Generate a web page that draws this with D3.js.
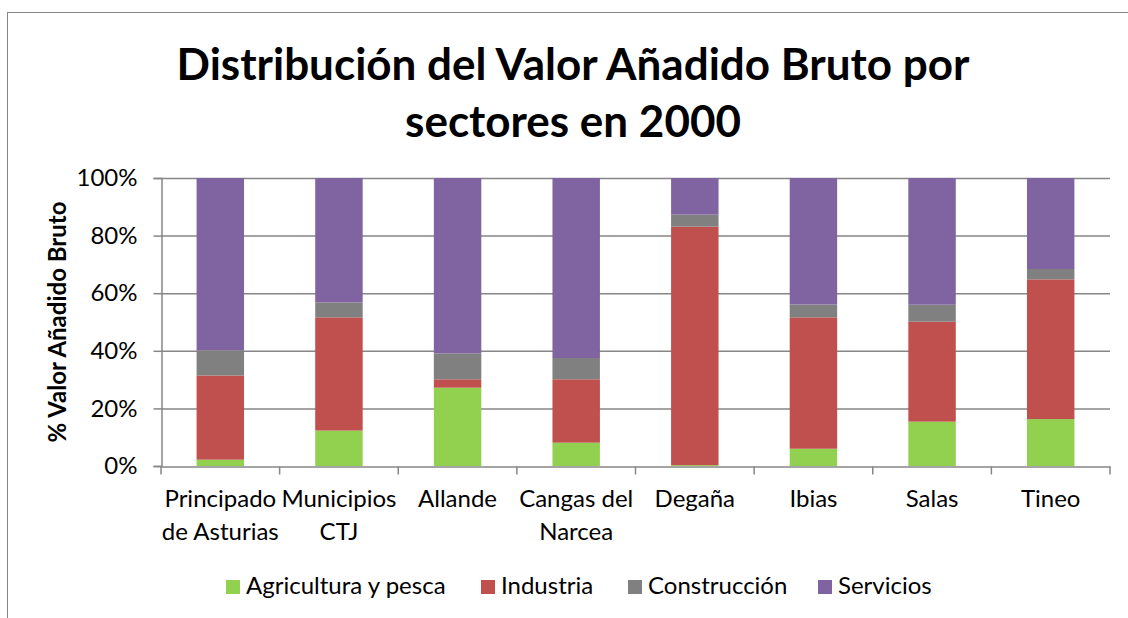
<!DOCTYPE html>
<html><head><meta charset="utf-8">
<script src="https://cdn.jsdelivr.net/npm/d3@7"></script>
<style>body{margin:0;background:#fff}svg{display:block}text{font-family:Lato,"Open Sans",sans-serif;fill:#000}</style>
</head><body><svg id="c" width="1128" height="618"></svg>
<script>
const categories = [["Principado","de Asturias"],["Municipios","CTJ"],["Allande"],["Cangas del","Narcea"],["Degaña"],["Ibias"],["Salas"],["Tineo"]];
const seriesNames = ["Agricultura y pesca","Industria","Construcción","Servicios"];
const agricultura = [2.2,12.3,27.2,8.1,0.3,6.0,15.4,16.3];
const industria   = [29.2,39.3,2.9,22.0,82.8,45.6,34.7,48.5];
const construccion= [8.8,5.2,9.0,7.4,4.2,4.5,5.9,3.6];
const servicios   = [59.8,43.2,60.9,62.5,12.7,43.9,44.0,31.6];
const yTicks = [0,20,40,60,80,100];
const colors = ["#92D050","#C0504D","#808080","#8064A2"];

const svg = d3.select("#c");
// outer frame
svg.append("rect").attr("x",7.5).attr("y",12.5).attr("width",1300).attr("height",800)
  .attr("fill","none").attr("stroke","#868686").attr("stroke-width",1);

const m = {l:161,r:1110,t:178,b:466};
const keys = categories.map((c,i)=>i);
const x = d3.scaleBand().domain(keys).range([m.l,m.r]).paddingInner(0.6).paddingOuter(0.3);
const xb = d3.scaleBand().domain(keys).range([m.l,m.r]);
const y = d3.scaleLinear().domain([0,100]).range([m.b,m.t]);

// title
svg.append("text").attr("x",573).attr("y",80).attr("text-anchor","middle")
  .style("font-size","44px").style("font-weight","bold").text("Distribución del Valor Añadido Bruto por");
svg.append("text").attr("x",573).attr("y",137).attr("text-anchor","middle")
  .style("font-size","44px").style("font-weight","bold").text("sectores en 2000");

// gridlines
svg.append("g").selectAll("line").data(yTicks.filter(d=>d>0)).join("line")
  .attr("x1",m.l).attr("x2",m.r).attr("y1",d=>y(d)+0.5).attr("y2",d=>y(d)+0.5)
  .attr("stroke","#868686").attr("stroke-width",1.5);

// stacked bars
const rows = keys.map(i=>({i, a:agricultura[i], n:industria[i], c:construccion[i], s:servicios[i]}));
const stack = d3.stack().keys(["a","n","c","s"])(rows);
svg.append("g").selectAll("g").data(stack).join("g").attr("fill",(d,k)=>colors[k])
  .selectAll("rect").data(d=>d).join("rect")
  .attr("x",d=>x(d.data.i)).attr("width",x.bandwidth())
  .attr("y",d=>y(d[1])).attr("height",d=>y(d[0])-y(d[1]));

// y axis
const ya = svg.append("g").attr("transform",`translate(${m.l+0.5},0)`)
  .call(d3.axisLeft(y).tickValues(yTicks).tickFormat(d=>d+"%").tickSize(8).tickPadding(16));
ya.select(".domain").attr("stroke","#868686").attr("stroke-width",1.5);
ya.selectAll(".tick line").attr("stroke","#868686").attr("stroke-width",1.5);
ya.selectAll(".tick text").style("font-size","24px").style("font-family","Lato,sans-serif").attr("fill","#000");

// x axis
const xa = svg.append("g").attr("transform",`translate(0,${m.b+0.5})`)
  .call(d3.axisBottom(xb).tickSize(0).tickFormat(""));
xa.select(".domain").attr("stroke","#868686").attr("stroke-width",1.5);
xa.selectAll(".tick").remove();
const bounds = keys.map(i=>xb(i)).concat([m.r]);
xa.selectAll("line.tk").data(bounds).join("line").attr("class","tk")
  .attr("x1",d=>d).attr("x2",d=>d).attr("y1",0).attr("y2",8)
  .attr("stroke","#868686").attr("stroke-width",1.5);
const lab = svg.append("g").selectAll("text").data(keys).join("text")
  .attr("text-anchor","middle").style("font-size","24px")
  .attr("transform",i=>`translate(${xb(i)+xb.bandwidth()/2},507)`);
lab.selectAll("tspan").data(i=>categories[i]).join("tspan")
  .attr("x",0).attr("dy",(d,j)=>j===0?0:33).text(d=>d);

// y axis title
svg.append("text").attr("transform","translate(66,322) rotate(-90)").attr("text-anchor","middle")
  .style("font-size","24px").style("font-weight","bold").text("% Valor Añadido Bruto");

// legend
const legX = [226,481,628,818];
const lg = svg.append("g").selectAll("g").data(seriesNames).join("g")
  .attr("transform",(d,k)=>`translate(${legX[k]},580)`);
lg.append("rect").attr("width",14).attr("height",14).attr("fill",(d,k)=>colors[k]);
lg.append("text").attr("x",20).attr("y",14).style("font-size","24px").text(d=>d);
</script></body></html>
